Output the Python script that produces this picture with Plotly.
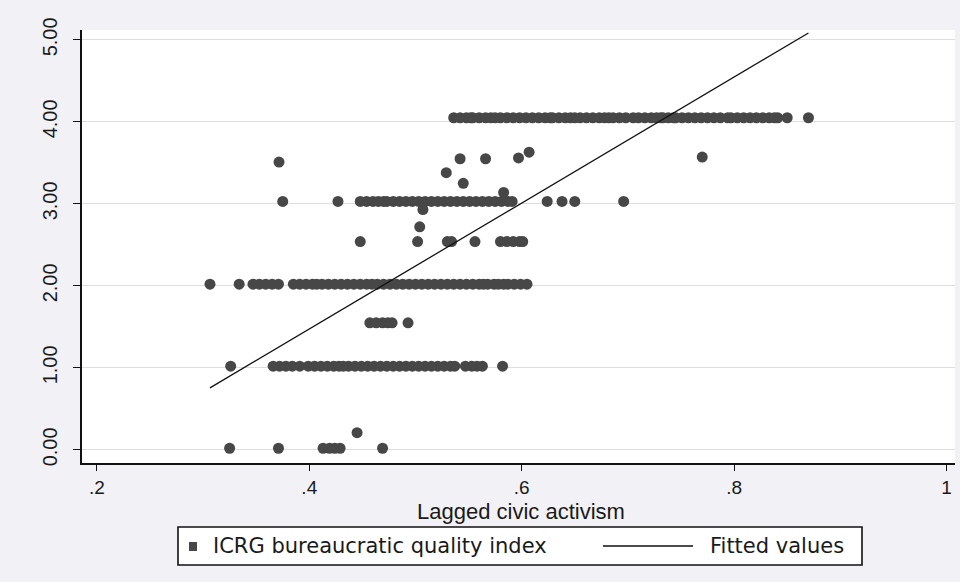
import plotly.graph_objects as go

# ---- data ----
# rows of observations sharing (roughly) the same index value
lvl4_y = 4.05
lvl4_x = [0.536, 0.542, 0.548, 0.552, 0.554, 0.560, 0.566, 0.571, 0.575,
          0.580, 0.586, 0.592, 0.598, 0.604, 0.610, 0.616, 0.622, 0.627,
          0.629, 0.635, 0.641, 0.646, 0.650,
          0.655, 0.661, 0.667, 0.673, 0.678, 0.682,
          0.686, 0.692, 0.698, 0.705,
          0.710, 0.716, 0.722, 0.727, 0.731,
          0.733, 0.738, 0.743,
          0.745, 0.751, 0.757, 0.763, 0.769, 0.775, 0.781, 0.787, 0.794,
          0.797, 0.803, 0.809, 0.815, 0.821, 0.827, 0.833, 0.838, 0.841,
          0.850, 0.870]

lvl3_y = 3.03
lvl3_x = [0.375, 0.427,
          0.448, 0.454, 0.460, 0.465, 0.470,
          0.473, 0.479, 0.485, 0.491, 0.497, 0.503, 0.509, 0.515, 0.521,
          0.527, 0.533, 0.539, 0.545, 0.551, 0.557, 0.563, 0.569, 0.575,
          0.581, 0.587, 0.591,
          0.624, 0.638, 0.650, 0.696]

lvl25_y = 2.54
lvl25_x = [0.448, 0.502, 0.530, 0.534, 0.556, 0.580, 0.586, 0.592, 0.598, 0.601]

lvl2_y = 2.02
lvl2_x = [0.3065, 0.334,
          0.347, 0.353, 0.359, 0.365, 0.371,
          0.385, 0.391, 0.397, 0.403, 0.407,
          0.412, 0.418, 0.424, 0.430, 0.436, 0.442, 0.448, 0.454, 0.459,
          0.464, 0.470, 0.476, 0.482, 0.488, 0.494, 0.500, 0.506, 0.512,
          0.518, 0.524, 0.530, 0.536, 0.542, 0.548, 0.554, 0.560, 0.564,
          0.568, 0.574, 0.578, 0.583,
          0.587, 0.593, 0.599, 0.605]

lvl15_y = 1.55
lvl15_x = [0.457, 0.463, 0.469, 0.474, 0.478, 0.493]

lvl1_y = 1.02
lvl1_x = [0.326,
          0.366, 0.372, 0.378, 0.384, 0.391,
          0.399, 0.405, 0.411, 0.417, 0.423, 0.428, 0.432,
          0.437, 0.443, 0.449, 0.455, 0.461, 0.467, 0.473, 0.479, 0.485,
          0.491, 0.497, 0.503, 0.509, 0.515, 0.521, 0.527, 0.533, 0.537,
          0.547, 0.553, 0.558, 0.563, 0.582]

lvl0_y = 0.02
lvl0_x = [0.325, 0.371, 0.413, 0.419, 0.424, 0.429, 0.469]

# scattered individual observations
other_x = [0.3715, 0.529, 0.542, 0.545, 0.566, 0.597, 0.607, 0.770, 0.583, 0.507, 0.504, 0.445]
other_y = [3.51,   3.38,  3.55,  3.25,  3.55,  3.56,  3.63,  3.57,  3.14,  2.93,  2.72,  0.21]

fit_intercept = -1.598
fit_slope = 7.68

x_ticks = [0.2, 0.4, 0.6, 0.8, 1.0]
x_ticktext = [".2", ".4", ".6", ".8", "1"]
y_ticks = [0, 1, 2, 3, 4, 5]
y_ticktext = ["0.00", "1.00", "2.00", "3.00", "4.00", "5.00"]

x_title = "Lagged civic activism"
series_names = ["ICRG bureaucratic quality index", "Fitted values"]

# ---- build ----
xs, ys = [], []
for lx, ly in [(lvl4_x, lvl4_y), (lvl3_x, lvl3_y), (lvl25_x, lvl25_y), (lvl2_x, lvl2_y),
               (lvl15_x, lvl15_y), (lvl1_x, lvl1_y), (lvl0_x, lvl0_y)]:
    xs += lx
    ys += [ly] * len(lx)
xs += other_x
ys += other_y

xmin, xmax = min(xs), max(xs)
fit_x = [xmin, xmax]
fit_y = [fit_intercept + fit_slope * v for v in fit_x]

FONT = "Liberation Sans, Arial, sans-serif"
LFONT = "DejaVu Sans, Liberation Sans, sans-serif"
MARK = "#474747"

W, H = 960, 582
ML, MR, MT, MB = 82, 5, 30, 119
PW, PH = W - ML - MR, H - MT - MB


def px(x):
    return (x - ML) / PW


def py(y):
    return (H - MB - y) / PH


fig = go.Figure()
fig.add_trace(go.Scatter(
    x=xs, y=ys, mode="markers", name=series_names[0],
    marker=dict(color=MARK, size=11, line=dict(width=0)),
))
fig.add_trace(go.Scatter(
    x=fit_x, y=fit_y, mode="lines", name=series_names[1],
    line=dict(color="#111111", width=1.3),
))

# legend box drawn in Stata style (long line sample)
shapes = [
    dict(type="rect", xref="paper", yref="paper", x0=px(178), x1=px(862), y0=py(565), y1=py(527),
         line=dict(color="#111111", width=1.6), fillcolor="#ffffff", layer="above"),
    dict(type="rect", xref="paper", yref="paper", x0=px(189), x1=px(197), y0=py(551), y1=py(542),
         line=dict(width=0), fillcolor=MARK, layer="above"),
    dict(type="line", xref="paper", yref="paper", x0=px(603), x1=px(693), y0=py(546), y1=py(546),
         line=dict(color="#111111", width=1.5), layer="above"),
]
annotations = [
    dict(text=series_names[0], xref="paper", yref="paper", x=px(211), y=py(546),
         xanchor="left", yanchor="middle", showarrow=False,
         font=dict(family=LFONT, size=21, color="#1a1a1a")),
    dict(text=series_names[1], xref="paper", yref="paper", x=px(708), y=py(546),
         xanchor="left", yanchor="middle", showarrow=False,
         font=dict(family=LFONT, size=21, color="#1a1a1a")),
    dict(text=x_title, xref="paper", yref="paper", x=px(521), y=py(511),
         xanchor="center", yanchor="middle", showarrow=False,
         font=dict(family=FONT, size=22, color="#1a1a1a")),
]

fig.update_layout(
    width=W, height=H,
    margin=dict(l=ML, r=MR, t=MT, b=MB, autoexpand=False),
    paper_bgcolor="#f2f1f5",
    plot_bgcolor="#ffffff",
    font=dict(family=FONT, color="#1a1a1a"),
    showlegend=False,
    shapes=shapes,
    annotations=annotations,
)
fig.update_xaxes(
    range=[0.186, 1.008], tickvals=x_ticks, ticktext=x_ticktext,
    showgrid=False, zeroline=False, showline=True, linecolor="#111111", linewidth=1.5,
    ticks="outside", ticklen=6, tickcolor="#111111",
    tickfont=dict(size=19, family=FONT),
)
fig.update_yaxes(
    range=[-0.16, 5.12], tickvals=y_ticks, ticktext=y_ticktext, tickangle=-90,
    showgrid=True, gridcolor="#dedede", gridwidth=1, zeroline=False,
    showline=True, linecolor="#111111", linewidth=1.5,
    ticks="outside", ticklen=7, tickcolor="#111111",
    tickfont=dict(size=20, family=FONT), ticklabelstandoff=8,
)

fig.write_html("out.html", config={"displayModeBar": False},
               post_script="document.body.style.margin='0px';")
